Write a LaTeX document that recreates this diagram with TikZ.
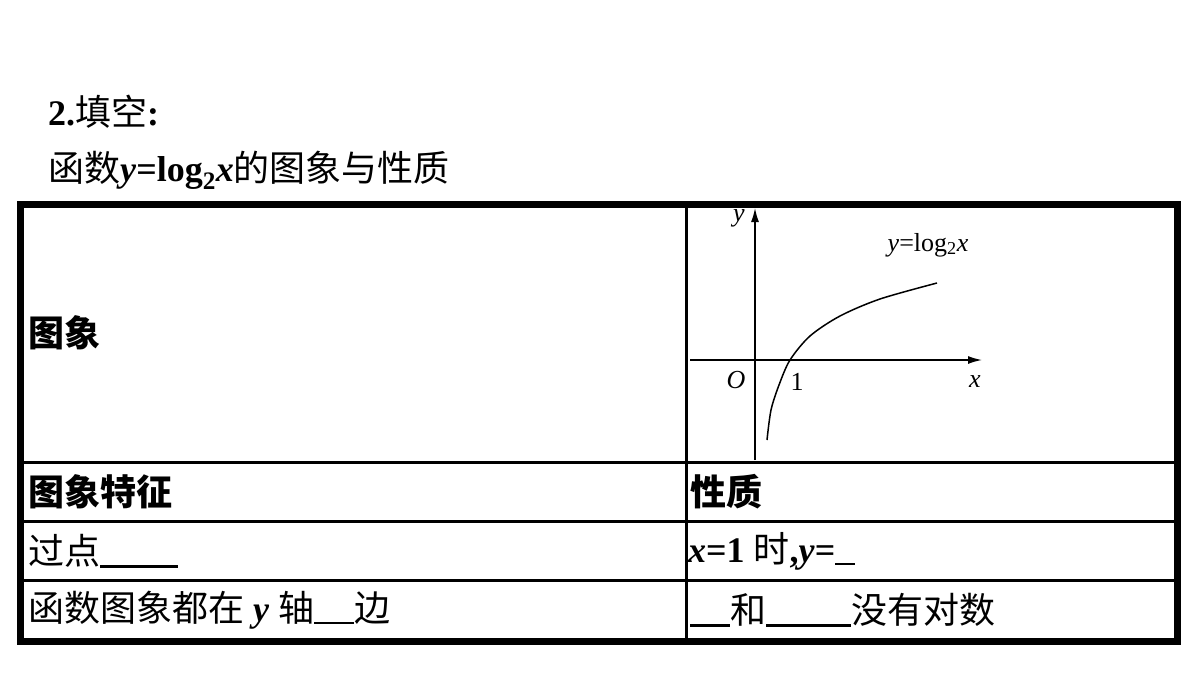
\documentclass[tikz,border=0pt]{standalone}
\usepackage{fontspec}
\usetikzlibrary{arrows.meta}
\setmainfont{Liberation Serif}
\newfontfamily\cjk{Noto Sans CJK SC}
\newcommand{\blk}[1]{\rule[-3pt]{#1pt}{2.5pt}}
\tikzset{lbl/.style={anchor=west,inner sep=0pt,font=\fontsize{36}{40}\selectfont},
 gridline/.style={line width=3pt},frameline/.style={line width=7pt}}
\begin{document}
\begin{tikzpicture}[x=1pt,y=-1pt]
\useasboundingbox (0,0) rectangle (1200,675);
\node[lbl] (t1) at (48,112) {\textbf{2.}{\cjk 填空}\textbf{:}};
\node[lbl] (t2) at (48,170) {{\cjk 函数}\textbf{\textit{y}=log\textsubscript{2}\textit{x}}{\cjk 的图象与性质}};
\draw[gridline] (686,201) -- (686,643);
\draw[gridline] (20,462) -- (1180,462);
\draw[gridline] (20,521) -- (1180,521);
\draw[gridline] (20,580) -- (1180,580);
\draw[frameline] (20,204) rectangle (1177,641);
\node[lbl] (a) at (28,333) {\cjk\bfseries 图象};
\node[lbl] (b) at (28,492) {\cjk\bfseries 图象特征};
\node[lbl] (c) at (690,492) {\cjk\bfseries 性质};
\node[lbl] (d) at (28,551) {{\cjk 过点}\blk{78}};
\node[lbl] (e) at (688,551) {\textbf{\textit{x}=1} {\cjk 时}\textbf{,\textit{y}=}\blk{20}};
\node[lbl] (f) at (28,610) {{\cjk 函数图象都在} \textbf{\textit{y}} {\cjk 轴}\blk{40}{\cjk 边}};
\node[lbl] (g) at (690,610) {\blk{40}{\cjk 和}\blk{85}{\cjk 没有对数}};
% graph
\coordinate (yb) at (755,460); \coordinate (yt) at (755,208);
\coordinate (xl) at (690,360); \coordinate (xr) at (982,360);
\draw[line width=1.5pt,-{Latex[length=14pt,width=8pt]}] (yb) -- (yt);
\draw[line width=1.5pt,-{Latex[length=14pt,width=8pt]}] (xl) -- (xr);
\draw[line width=1.5pt] plot[smooth] coordinates {(767,440) (771,410) (779,385) (790,360) (810,336) (840,316) (880,299) (937,283)};
\node[font=\fontsize{26}{28}\selectfont\itshape] (ly) at (739,218) {y};
\node[font=\fontsize{26}{28}\selectfont] (lf) at (928,245) {\textit{y}=log\textsubscript{2}\textit{x}};
\node[font=\fontsize{26}{28}\selectfont\itshape] (lo) at (736,380) {O};
\node[font=\fontsize{26}{28}\selectfont] (l1) at (797,382) {1};
\node[font=\fontsize{26}{28}\selectfont\itshape] (lx) at (975,382) {x};
\end{tikzpicture}
\end{document}
